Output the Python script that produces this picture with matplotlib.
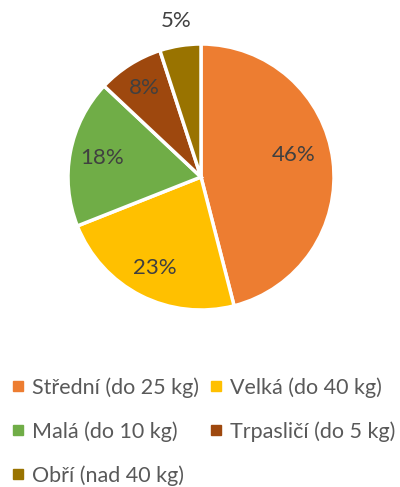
import matplotlib
matplotlib.use("Agg")
import matplotlib.pyplot as plt
from matplotlib.lines import Line2D

plt.rcParams['font.family'] = ['Lato', 'DejaVu Sans']

# data
categories = ["Střední (do 25 kg)", "Velká (do 40 kg)", "Malá (do 10 kg)",
              "Trpasličí (do 5 kg)", "Obří (nad 40 kg)"]
shares = [46, 23, 18, 8, 5]
colors = ["#ED7D31", "#FFC000", "#70AD47", "#9E480E", "#997300"]

W, H = 400, 487
fig = plt.figure(figsize=(W / 100, H / 100), dpi=100)

cx, cy, r = 201, 177, 133
ax = fig.add_axes([(cx - r) / W, 1 - (cy + r) / H, 2 * r / W, 2 * r / H])

wedges, texts, autotexts = ax.pie(
    shares, colors=colors, startangle=90, counterclock=False,
    autopct=lambda p: f"{p:.0f}%", pctdistance=0.77,
    wedgeprops=dict(edgecolor="white", linewidth=2.5),
    textprops=dict(color="#404040", fontsize=16))
# label distances from centre, as placed in the original
label_dist = [0.70, 0.77, 0.76, 0.79, 1.19]
for t, dist in zip(autotexts, label_dist):
    x, y = t.get_position()
    d = (x ** 2 + y ** 2) ** 0.5
    t.set_position((x / d * dist, y / d * dist))
# biggest label is nudged up a bit
x, y = autotexts[0].get_position()
autotexts[0].set_position((x, y + 0.08))
ax.set_xlim(-1, 1)
ax.set_ylim(-1, 1)
ax.axis("off")

# legend is filled row by row, matplotlib fills columns -> reorder
order = [0, 2, 4, 1, 3]
handles = [Line2D([], [], marker="s", linestyle="", markersize=6.5,
                  markerfacecolor=colors[i], markeredgecolor=colors[i]) for i in order]
labels = [categories[i] for i in order]
fig.legend(handles, labels, ncol=2, loc="upper left",
           bbox_to_anchor=(0.03, 1 - 377 / H), frameon=False,
           fontsize=15.5, labelcolor="#595959", handlelength=0.6,
           handletextpad=0.35, columnspacing=0.45, labelspacing=1.09,
           borderaxespad=0, borderpad=0)

fig.savefig("out.png", dpi=100)
